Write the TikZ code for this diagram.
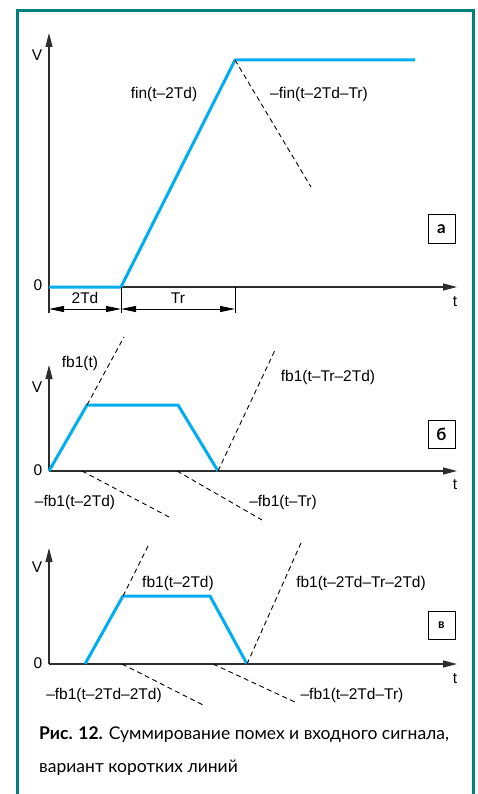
\documentclass[tikz,border=0pt]{standalone}
\usepackage{fontspec}
\setmainfont{Liberation Sans}
\newfontfamily\capfont{Lato}
\usetikzlibrary{arrows.meta}
\definecolor{frameteal}{RGB}{0,128,122}
\definecolor{sigblue}{RGB}{0,174,239}
\definecolor{axisgray}{RGB}{45,45,45}
\tikzset{
 axis/.style={draw=axisgray, line width=1.2pt, -{Triangle[length=14pt,width=7pt]}},
 sig/.style={draw=sigblue, line width=3pt, line join=round},
 dsh/.style={draw=black, line width=0.9pt, dash pattern=on 5pt off 3.5pt},
 lbl/.style={font=\fontsize{15.5}{18}\selectfont, inner sep=0pt},
 tag/.style={draw=black, line width=1pt, minimum width=27pt, minimum height=28pt, inner sep=0pt, font=\capfont\bfseries\fontsize{17}{18}\selectfont},
 dim/.style={draw=black, line width=1pt, {Triangle[length=15pt,width=6pt]}-{Triangle[length=15pt,width=6pt]}},
 tickl/.style={draw=black, line width=1pt},
 captxt/.style={font=\capfont\fontsize{17.5}{18}\selectfont, inner sep=0pt, anchor=base west}
}
\begin{document}
\begin{tikzpicture}[x=1pt,y=-1pt]
\useasboundingbox (0,0) rectangle (477,794);
% frame
\coordinate (fBL) at (17.5,794);
\coordinate (fTL) at (17.5,11);
\coordinate (fTR) at (473.5,11);
\coordinate (fBR) at (473.5,794);
\draw[frameteal, line width=3pt] (fBL) -- (fTL) -- (fTR) -- (fBR);

% ===== panel a =====
\coordinate (aO) at (49,287);
\coordinate (aB) at (49,313);
\coordinate (aV) at (49,33);
\coordinate (aT) at (457,287);
\draw[axis] (aB) -- (aV);
\draw[axis] (aO) -- (aT);
\node[lbl] (aVl) at (37,55) {V};
\node[lbl] (a0l) at (38,285) {0};
\node[lbl] (atl) at (455,302) {t};
\coordinate (a1) at (121,287);
\coordinate (a2) at (235,60);
\coordinate (a3) at (415,60);
\coordinate (a4) at (311,187);
\draw[sig] (aO) -- (a1) -- (a2) -- (a3);
\draw[dsh] (a2) -- (a4);
\node[lbl] (afin) at (164,94) {fin(t–2Td)};
\node[lbl] (afin2) at (319,94) {–fin(t–2Td–Tr)};
\node[tag] (atag) at (441.5,229) {а};
% dimensions
\coordinate (a1b) at (121,313);
\coordinate (a5) at (235,287);
\coordinate (a5b) at (235,313);
\draw[tickl] (a1) -- (a1b);
\draw[tickl] (a5) -- (a5b);
\coordinate (d1) at (49,309);
\coordinate (d2) at (121,309);
\coordinate (d3) at (235,309);
\draw[dim] (d1) -- (d2);
\draw[dim] (d2) -- (d3);
\node[lbl] (a2td) at (85,298) {2Td};
\node[lbl] (atr) at (178,298) {Tr};

% ===== panel b =====
\coordinate (bO) at (49,471);
\coordinate (bV) at (49,365);
\coordinate (bT) at (457,471);
\draw[axis] (bO) -- (bV);
\draw[axis] (bO) -- (bT);
\node[lbl] (bVl) at (37,387) {V};
\node[lbl] (b0l) at (38,470) {0};
\node[lbl] (btl) at (455,485) {t};
\coordinate (b1) at (87,405);
\coordinate (b2) at (178,405);
\coordinate (b3) at (218,471);
\draw[sig] (bO) -- (b1) -- (b2) -- (b3);
\coordinate (b4) at (124,337);
\coordinate (b5) at (276,348);
\coordinate (b6) at (82,471);
\coordinate (b7) at (171,518);
\coordinate (b8) at (177,471);
\coordinate (b9) at (262,520);
\draw[dsh] (b1) -- (b4);
\draw[dsh] (b3) -- (b5);
\draw[dsh] (b6) -- (b7);
\draw[dsh] (b8) -- (b9);
\node[lbl] (bl1) at (80,363) {fb1(t)};
\node[lbl] (bl2) at (328,377) {fb1(t–Tr–2Td)};
\node[lbl] (bl3) at (75,502) {–fb1(t–2Td)};
\node[lbl] (bl4) at (283,502) {–fb1(t–Tr)};
\node[tag] (btag) at (441.5,434) {б};

% ===== panel c =====
\coordinate (cO) at (49,664);
\coordinate (cV) at (49,548);
\coordinate (cT) at (457,664);
\draw[axis] (cO) -- (cV);
\draw[axis] (cO) -- (cT);
\node[lbl] (cVl) at (37,567) {V};
\node[lbl] (c0l) at (38,663) {0};
\node[lbl] (ctl) at (455,679) {t};
\coordinate (c0) at (85,664);
\coordinate (c1) at (123,596);
\coordinate (c2) at (210,596);
\coordinate (c3) at (247,664);
\draw[sig] (c0) -- (c1) -- (c2) -- (c3);
\coordinate (c4) at (149,544);
\coordinate (c5) at (301,543);
\coordinate (c6) at (122,664);
\coordinate (c7) at (203,705);
\coordinate (c8) at (213,664);
\coordinate (c9) at (297,703);
\draw[dsh] (c1) -- (c4);
\draw[dsh] (c3) -- (c5);
\draw[dsh] (c6) -- (c7);
\draw[dsh] (c8) -- (c9);
\node[lbl] (cl1) at (178,583) {fb1(t–2Td)};
\node[lbl] (cl2) at (361,583) {fb1(t–2Td–Tr–2Td)};
\node[lbl] (cl3) at (104,695) {–fb1(t–2Td–2Td)};
\node[lbl] (cl4) at (352,695) {–fb1(t–2Td–Tr)};
\node[tag, font=\capfont\bfseries\fontsize{13}{14}\selectfont] (ctag) at (441.5,625.5) {в};

% caption
\node[captxt] (cap1) at (39,739) {{\bfseries Рис. 12.} Суммирование помех и входного сигнала,};
\node[captxt] (cap2) at (39,772) {вариант коротких линий};
\end{tikzpicture}
\end{document}
